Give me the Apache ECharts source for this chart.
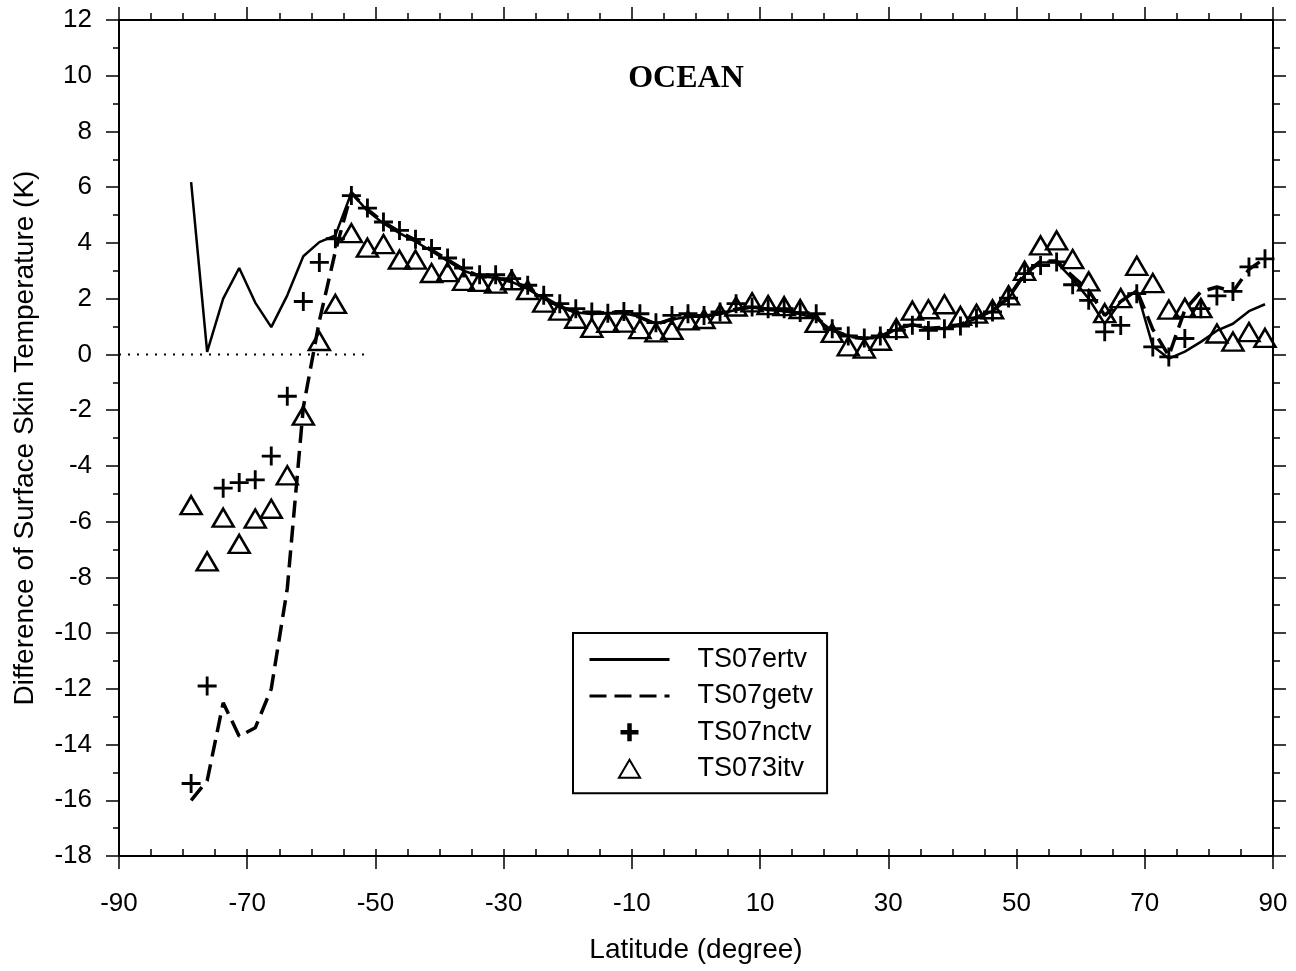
<!DOCTYPE html>
<html>
<head>
<meta charset="utf-8">
<script src="https://cdn.jsdelivr.net/npm/echarts@6/dist/echarts.min.js"></script>
<style>
  html, body { margin: 0; padding: 0; background: #fff; }
  #chart { width: 1296px; height: 971px; }
</style>
</head>
<body>
<div id="chart"></div>
<script>
// 2.5 degree latitude bands, ocean only
const lats = [];
for (let k = 0; k < 68; k++) lats.push(-78.75 + 2.5 * k);

const ertv = [
  6.18, 0.09, 2.0, 3.1, 1.86, 0.98, 2.12, 3.52, 4.03, 4.27,
  5.8, 5.15, 4.7, 4.35, 4.05, 3.7, 3.35, 3.0, 2.8, 2.75,
  2.6, 2.35, 2.0, 1.7, 1.5, 1.45, 1.48, 1.48, 1.35, 1.1,
  1.25, 1.35, 1.35, 1.45, 1.6, 1.68, 1.6, 1.55, 1.45, 1.3,
  0.85, 0.68, 0.58, 0.62, 0.9, 1.05, 0.92, 0.95, 1.05, 1.3,
  1.55, 2.0, 2.85, 3.3, 3.3, 2.7, 2.0, 1.1, 1.9, 2.3,
  0.3, -0.15, 0.1, 0.45, 0.85, 1.1, 1.55, 1.8
];
const getv = [
  -16.0, -15.3, -12.5, -13.7, -13.4, -12.0, -8.4, -1.9, 1.2, 3.7,
  5.8, 5.2, 4.75, 4.4, 4.1, 3.75, 3.4, 3.05, 2.8, 2.75,
  2.62, 2.4, 2.05, 1.72, 1.52, 1.47, 1.5, 1.5, 1.33, 1.08,
  1.27, 1.37, 1.37, 1.47, 1.62, 1.7, 1.62, 1.57, 1.47, 1.32,
  0.88, 0.66, 0.56, 0.64, 0.92, 1.07, 0.94, 0.97, 1.07, 1.33,
  1.57, 2.05, 2.9, 3.35, 3.35, 2.8, 2.3, 1.4, 1.9, 2.3,
  0.9, -0.05, 1.6, 2.25, 2.42, 2.25, 3.05, 3.45
];
const nctv = [
  -15.4, -11.9, -4.8, -4.6, -4.5, -3.65, -1.5, 1.9, 3.3, 4.15,
  5.7, 5.25, 4.75, 4.45, 4.13, 3.8, 3.46, 3.1, 2.86, 2.86,
  2.72, 2.48, 2.12, 1.82, 1.64, 1.52, 1.48, 1.54, 1.46, 1.14,
  1.4, 1.46, 1.4, 1.52, 1.82, 1.7, 1.64, 1.64, 1.5, 1.46,
  0.92, 0.66, 0.59, 0.66, 0.86, 1.05, 0.86, 0.92, 1.02, 1.31,
  1.52, 2.02, 2.9, 3.19, 3.32, 2.5, 1.94, 0.81, 1.04, 2.18,
  0.27, -0.09, 0.57, 1.64, 2.1, 2.26, 3.14, 3.43
];
const itv = [
  -5.41, -7.43, -5.86, -6.8, -5.89, -5.54, -4.34, -2.2, 0.48, 1.81,
  4.35, 3.83, 3.96, 3.4, 3.4, 2.92, 2.95, 2.64, 2.6, 2.54,
  2.66, 2.31, 1.86, 1.57, 1.28, 0.95, 1.13, 1.14, 0.91, 0.79,
  0.88, 1.22, 1.27, 1.46, 1.72, 1.87, 1.77, 1.73, 1.63, 1.13,
  0.77, 0.29, 0.21, 0.49, 0.94, 1.57, 1.62, 1.8, 1.38, 1.46,
  1.62, 2.12, 3.0, 3.91, 4.09, 3.42, 2.62, 1.48, 2.02, 3.18,
  2.56, 1.61, 1.67, 1.66, 0.75, 0.46, 0.8, 0.59
];
const zeroRef = [[-90, 0], [-51, 0]];

const xTicks = { min: -90, max: 90, step: 20, minor: 5 };
const yTicks = { min: -18, max: 12, step: 2 };

function pairs(vals) {
  return lats.map(function (la, i) { return [la, vals[i]]; });
}

const plusPath = 'path://M8.5,0h3v8.5h8.5v3h-8.5v8.5h-3v-8.5h-8.5v-3h8.5z';
const plusBold = 'path://M7.5,0h5v7.5h7.5v5h-7.5v7.5h-5v-7.5h-7.5v-5h7.5z';
const triPath = 'path://M10,0L20,17L0,17Z';

const font = 'Liberation Sans';
const black = '#000';

let chart = echarts.init(document.getElementById('chart'));

let option = {
  animation: false,
  backgroundColor: '#fff',
  title: {
    text: 'OCEAN',
    left: 681,
    top: 58,
    textAlign: 'center',
    textStyle: { fontFamily: 'Liberation Serif', fontWeight: 'bold', fontSize: 32, color: black }
  },
  grid: { left: 119, right: 23, top: 20, bottom: 115, containLabel: false },
  legend: {
    orient: 'vertical',
    left: 573,
    top: 633,
    padding: [13, 14, 11, 15],
    borderColor: black,
    borderWidth: 2,
    itemWidth: 80,
    itemHeight: 18,
    itemGap: 9.4,
    lineStyle: { width: 3 },
    textStyle: { fontFamily: font, fontSize: 27, color: black, lineHeight: 24, padding: [0, 0, 0, 23] },
    data: [
      { name: 'TS07ertv', itemStyle: { opacity: 0 } },
      { name: 'TS07getv', itemStyle: { opacity: 0 } },
      { name: 'TS07nctv', icon: plusBold },
      { name: 'TS073itv', icon: triPath }
    ]
  },
  xAxis: [
    {
      type: 'value', position: 'bottom',
      min: xTicks.min, max: xTicks.max, interval: xTicks.step,
      name: 'Latitude (degree)', nameLocation: 'middle', nameGap: 80,
      nameTextStyle: { fontFamily: font, fontSize: 28, color: black },
      axisLine: { onZero: false, lineStyle: { color: black, width: 2 } },
      axisTick: { inside: false, length: 13, lineStyle: { color: black, width: 1.5 } },
      axisLabel: { fontFamily: font, fontSize: 26, color: black, margin: 35 },
      splitLine: { show: false }
    },
    {
      type: 'value', position: 'bottom',
      min: xTicks.min, max: xTicks.max, interval: xTicks.minor,
      axisLine: { show: false, onZero: false },
      axisTick: { inside: true, length: 7, lineStyle: { color: black, width: 1.5 } },
      axisLabel: { show: false },
      splitLine: { show: false }
    },
    {
      type: 'value', position: 'top',
      min: xTicks.min, max: xTicks.max, interval: xTicks.step,
      axisLine: { onZero: false, lineStyle: { color: black, width: 2 } },
      axisTick: { inside: false, length: 13, lineStyle: { color: black, width: 1.5 } },
      minorTick: { show: true, splitNumber: 4, length: 7, lineStyle: { color: black, width: 1.5 } },
      axisLabel: { show: false },
      splitLine: { show: false }
    }
  ],
  yAxis: [
    {
      type: 'value', position: 'left',
      min: yTicks.min, max: yTicks.max, interval: yTicks.step,
      name: 'Difference of Surface Skin Temperature (K)', nameLocation: 'middle', nameGap: 80,
      nameTextStyle: { fontFamily: font, fontSize: 28, color: black },
      axisLine: { onZero: false, lineStyle: { color: black, width: 2 } },
      axisTick: { inside: false, length: 13, lineStyle: { color: black, width: 1.5 } },
      minorTick: { show: true, splitNumber: 2, length: 6, lineStyle: { color: black, width: 1.5 } },
      axisLabel: { fontFamily: font, fontSize: 26, color: black, margin: 27 },
      splitLine: { show: false }
    },
    {
      type: 'value', position: 'right',
      min: yTicks.min, max: yTicks.max, interval: yTicks.step,
      axisLine: { onZero: false, lineStyle: { color: black, width: 2 } },
      axisTick: { inside: false, length: 13, lineStyle: { color: black, width: 1.5 } },
      minorTick: { show: true, splitNumber: 2, length: 7, lineStyle: { color: black, width: 1.5 } },
      axisLabel: { show: false },
      splitLine: { show: false }
    }
  ],
  series: [
    {
      name: 'zero', type: 'line', data: zeroRef, symbol: 'none', silent: true,
      lineStyle: { color: black, width: 2, type: [2, 7] }, z: 1
    },
    {
      name: 'TS07ertv', type: 'line', data: pairs(ertv), symbol: 'none',
      lineStyle: { color: black, width: 2.5 }, itemStyle: { color: black }, z: 2
    },
    {
      name: 'TS07getv', type: 'line', data: pairs(getv), symbol: 'none',
      lineStyle: { color: black, width: 3.5, type: [17, 8] }, itemStyle: { color: black }, z: 2
    },
    {
      name: 'TS07nctv', type: 'scatter', data: pairs(nctv), symbol: plusPath, symbolSize: 19,
      itemStyle: { color: black, opacity: 1 }, z: 3
    },
    {
      name: 'TS073itv', type: 'scatter', data: pairs(itv), symbol: triPath, symbolSize: [21, 18],
      itemStyle: { color: 'rgba(255,255,255,0)', borderColor: black, borderWidth: 2.5, opacity: 1 }, z: 3
    }
  ]
};

chart.setOption(option);
</script>
</body>
</html>
